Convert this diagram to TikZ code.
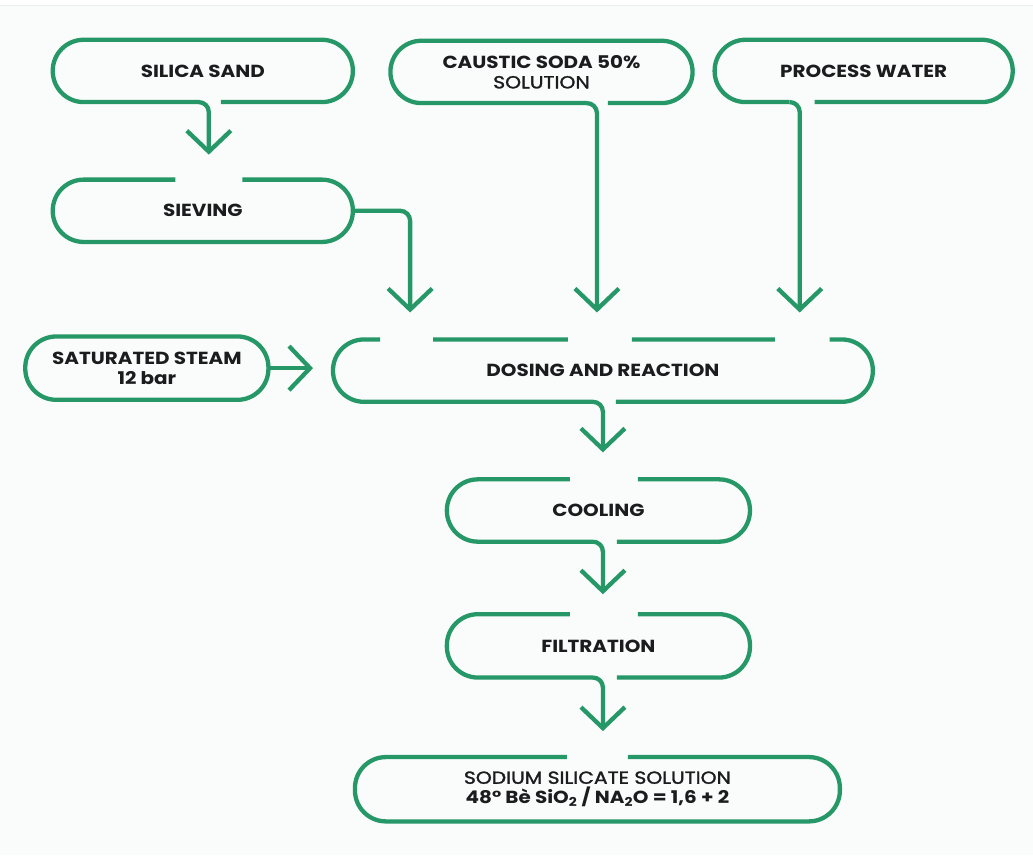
\documentclass[tikz,border=0pt]{standalone}
\usepackage{fontspec}
\setmainfont{Poppins}[FakeStretch=1.14]
\newfontfamily\midweight{Poppins}[FakeStretch=1.16, FakeBold=1.6]
\usetikzlibrary{arrows.meta}
\definecolor{flowgreen}{RGB}{38,152,103}
\definecolor{ink}{RGB}{28,28,30}
\definecolor{paper}{RGB}{250,251,251}
\definecolor{rule}{RGB}{236,238,238}

\begin{document}
\begin{tikzpicture}[x=1pt,y=-1pt,
  stage/.style={minimum width=#1, minimum height=62pt, inner sep=0pt,
    align=center, text=ink, font=\fontsize{17.5}{20}\selectfont\bfseries},
  rim/.style={draw=flowgreen, line width=4.3pt, rounded corners=31pt},
  feed/.style={draw=flowgreen, line width=4.3pt, rounded corners=10pt,
    -{Straight Barb[length=21pt,width=44pt]}},
]
% canvas
\fill[paper] (0,0) rectangle (1033,856);
\fill[white] (0,0) rectangle (1033,6);
\draw[rule, line width=1pt] (0,6) -- (1033,6);

% process stages
\node[stage=300pt] (sand)  at (202.5,71)  {SILICA SAND};
\node[stage=300pt] (sieve) at (202.5,211) {SIEVING};
\node[stage=302pt] (soda)  at (541.5,72)  {CAUSTIC SODA 50\%\\{\midweight\mdseries SOLUTION}};
\node[stage=298pt] (water) at (864,71)    {PROCESS WATER};
\node[stage=243pt, minimum height=63pt] (steam) at (146.5,368.5) {SATURATED STEAM\\12 bar};
\node[stage=540pt] (dose)  at (603,371)   {DOSING AND REACTION};
\node[stage=303pt] (cool)  at (598.5,511) {COOLING};
\node[stage=303pt, minimum height=63pt] (filt) at (598.5,646.5) {FILTRATION};
\node[stage=485pt, minimum height=64pt] (prod) at (597.5,790)
  {{\midweight\mdseries SODIUM SILICATE SOLUTION}\\48° Bè SiO\textsubscript{2} / NA\textsubscript{2}O = 1,6 + 2};

% arrow tips just outside each entry gap
\coordinate (tipA) at ([xshift=-193pt,yshift=27pt]dose.north);
\coordinate (tipB) at ([xshift=-6pt,yshift=27pt]dose.north);
\coordinate (tipC) at ([xshift=197pt,yshift=27pt]dose.north);
\coordinate (tipS) at ([xshift=-20pt]dose.west);

% outlines, open where flows enter and leave
\draw[rim] ([xshift=18pt]sand.south) -- (sand.south east) -- (sand.north east)
  -- (sand.north west) -- (sand.south west) -- ([xshift=-6pt]sand.south);
\draw[rim] (sieve.east) -- (sieve.north east) -- ([xshift=39.5pt]sieve.north)
  ([xshift=-27.5pt]sieve.north) -- (sieve.north west) -- (sieve.south west)
  -- (sieve.south east) -- (sieve.east);
\draw[rim] ([xshift=66.5pt]soda.south) -- (soda.south east) -- (soda.north east)
  -- (soda.north west) -- (soda.south west) -- ([xshift=45.5pt]soda.south);
\draw[rim] ([xshift=-49pt]water.south) -- (water.south east) -- (water.north east)
  -- (water.north west) -- (water.south west) -- ([xshift=-74pt]water.south);
\draw[rim] (steam.south west) rectangle (steam.north east);
\draw[rim] ([xshift=13pt]dose.south) -- (dose.south east) -- (dose.north east)
  -- ([xshift=227pt]dose.north)
  ([xshift=172pt]dose.north) -- ([xshift=29pt]dose.north)
  ([xshift=-35pt]dose.north) -- ([xshift=-170pt]dose.north)
  ([xshift=-223pt]dose.north) -- (dose.north west) -- (dose.south west)
  -- ([xshift=-10pt]dose.south);
\draw[rim] ([xshift=18.5pt]cool.south) -- (cool.south east) -- (cool.north east)
  -- ([xshift=39.5pt]cool.north)
  ([xshift=-28.5pt]cool.north) -- (cool.north west) -- (cool.south west)
  -- ([xshift=-5.5pt]cool.south);
\draw[rim] ([xshift=18.5pt]filt.south) -- (filt.south east) -- (filt.north east)
  -- ([xshift=39.5pt]filt.north)
  ([xshift=-28.5pt]filt.north) -- (filt.north west) -- (filt.south west)
  -- ([xshift=-5.5pt]filt.south);
\draw[rim] ([xshift=30.5pt]prod.north) -- (prod.north east) -- (prod.south east)
  -- (prod.south west) -- (prod.north west) -- ([xshift=-30.5pt]prod.north);

% flows
\draw[feed] ([xshift=-6pt]sand.south) -- ([xshift=6pt]sand.south)
  -- ([xshift=6pt,yshift=25pt]sieve.north);
\draw[feed] (sieve.east) -| (tipA);
\draw[feed] ([xshift=45.5pt]soda.south) -- ([xshift=55.5pt]soda.south) -- (tipB);
\draw[feed] ([xshift=-74pt]water.south) -- ([xshift=-64pt]water.south) -- (tipC);
\draw[feed] (steam.east) -- (steam.east -| tipS);
\draw[feed] ([xshift=-10pt]dose.south) -- (dose.south)
  -- ([xshift=4.5pt,yshift=27pt]cool.north);
\draw[feed] ([xshift=-5.5pt]cool.south) -- ([xshift=4.5pt]cool.south)
  -- ([xshift=4.5pt,yshift=20pt]filt.north);
\draw[feed] ([xshift=-5.5pt]filt.south) -- ([xshift=4.5pt]filt.south)
  -- ([xshift=5.5pt,yshift=26pt]prod.north);
\end{tikzpicture}
\end{document}
